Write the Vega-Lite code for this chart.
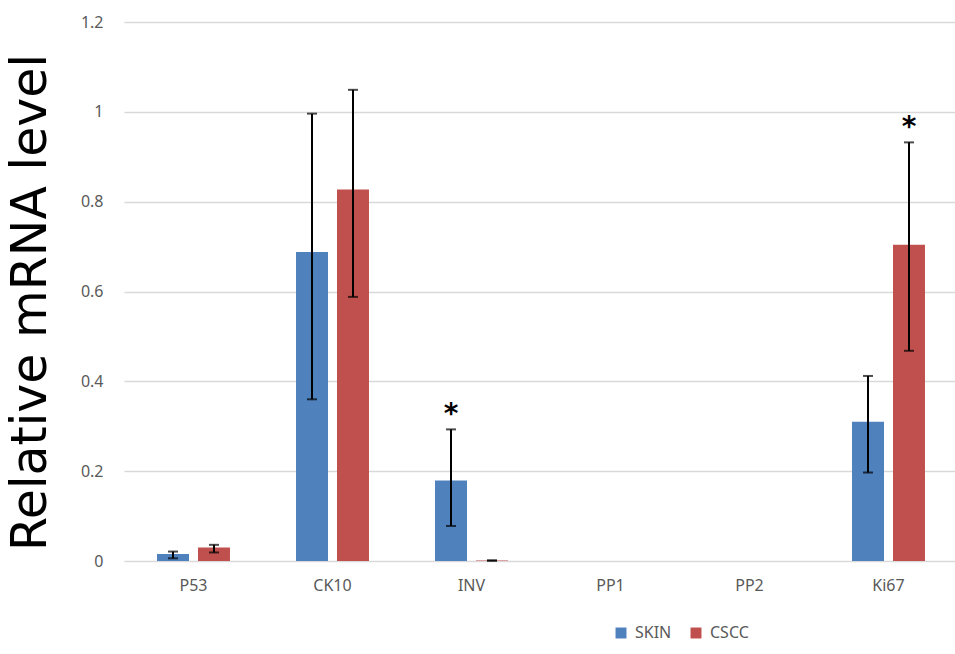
{
  "$schema": "https://vega.github.io/schema/vega-lite/v6.json",
  "autosize": {"type": "none"},
  "padding": {"left": 124, "top": 22, "right": 0, "bottom": 93},
  "width": 834,
  "height": 539,
  "background": "white",
  "config": {
    "view": {"stroke": null},
    "font": "Noto Sans"
  },
  "data": {
    "values": [
      {"gene": "P53", "group": "SKIN", "value": 0.0156, "lo": 0.006, "hi": 0.021, "star": ""},
      {"gene": "P53", "group": "CSCC", "value": 0.030, "lo": 0.019, "hi": 0.036, "star": ""},
      {"gene": "CK10", "group": "SKIN", "value": 0.688, "lo": 0.360, "hi": 0.996, "star": ""},
      {"gene": "CK10", "group": "CSCC", "value": 0.827, "lo": 0.588, "hi": 1.049, "star": ""},
      {"gene": "INV", "group": "SKIN", "value": 0.179, "lo": 0.078, "hi": 0.293, "star": "*"},
      {"gene": "INV", "group": "CSCC", "value": 0.001, "lo": 0.0005, "hi": 0.0015, "star": ""},
      {"gene": "PP1", "group": "SKIN", "value": 0, "lo": null, "hi": null, "star": ""},
      {"gene": "PP1", "group": "CSCC", "value": 0, "lo": null, "hi": null, "star": ""},
      {"gene": "PP2", "group": "SKIN", "value": 0, "lo": null, "hi": null, "star": ""},
      {"gene": "PP2", "group": "CSCC", "value": 0, "lo": null, "hi": null, "star": ""},
      {"gene": "Ki67", "group": "SKIN", "value": 0.310, "lo": 0.197, "hi": 0.412, "star": ""},
      {"gene": "Ki67", "group": "CSCC", "value": 0.704, "lo": 0.468, "hi": 0.932, "star": "*"}
    ]
  },
  "encoding": {
    "x": {
      "field": "gene", "type": "nominal",
      "sort": ["P53", "CK10", "INV", "PP1", "PP2", "Ki67"],
      "scale": {"paddingInner": 0.475, "paddingOuter": 0.2375},
      "axis": {
        "title": null, "labelAngle": 0, "domain": false, "ticks": false,
        "labelFont": "Noto Sans", "labelFontSize": 16, "labelColor": "#595959",
        "labelPadding": 16
      }
    },
    "xOffset": {
      "field": "group", "type": "nominal",
      "sort": ["SKIN", "CSCC"],
      "scale": {"paddingInner": 0.2195, "paddingOuter": 0}
    }
  },
  "layer": [
    {
      "mark": {"type": "bar", "stroke": null},
      "encoding": {
        "y": {
          "field": "value", "type": "quantitative",
          "scale": {"domain": [0, 1.2], "nice": false},
          "axis": {
            "values": [0, 0.2, 0.4, 0.6, 0.8, 1, 1.2],
            "format": "~g",
            "domain": false, "ticks": false,
            "gridColor": "#d9d9d9", "gridWidth": 1.5,
            "labelFont": "Noto Sans", "labelFontSize": 16, "labelColor": "#595959",
            "labelPadding": 21,
            "title": "Relative mRNA level",
            "titleFont": "DejaVu Sans", "titleFontSize": 49, "titleFontWeight": "normal",
            "titleColor": "#000000", "titleAngle": -90, "titleAlign": "center",
            "titleBaseline": "alphabetic", "titleX": -79, "titleY": 280
          }
        },
        "color": {
          "field": "group", "type": "nominal",
          "sort": ["SKIN", "CSCC"],
          "scale": {"domain": ["SKIN", "CSCC"], "range": ["#4F81BD", "#C0504D"]},
          "legend": {
            "title": null, "orient": "none", "direction": "horizontal",
            "legendX": 489, "legendY": 603,
            "symbolType": "square", "symbolSize": 120, "symbolStrokeWidth": 0,
            "labelFont": "Noto Sans", "labelFontSize": 16, "labelColor": "#595959",
            "labelOffset": 6, "columnPadding": 16
          }
        }
      }
    },
    {
      "transform": [{"filter": "datum.lo != null"}],
      "mark": {"type": "rule", "color": "#000000", "strokeWidth": 2},
      "encoding": {
        "y": {"field": "lo", "type": "quantitative"},
        "y2": {"field": "hi"}
      }
    },
    {
      "transform": [{"filter": "datum.lo != null"}],
      "mark": {"type": "tick", "color": "#000000", "thickness": 2, "size": 10},
      "encoding": {
        "y": {"field": "lo", "type": "quantitative"}
      }
    },
    {
      "transform": [{"filter": "datum.lo != null"}],
      "mark": {"type": "tick", "color": "#000000", "thickness": 2, "size": 10},
      "encoding": {
        "y": {"field": "hi", "type": "quantitative"}
      }
    },
    {
      "transform": [{"filter": "datum.star != ''"}],
      "mark": {"type": "text", "fontSize": 28, "fontWeight": "bold", "font": "DejaVu Sans", "color": "#000000", "baseline": "middle", "dy": -14},
      "encoding": {
        "y": {"field": "hi", "type": "quantitative"},
        "text": {"field": "star"}
      }
    }
  ]
}
